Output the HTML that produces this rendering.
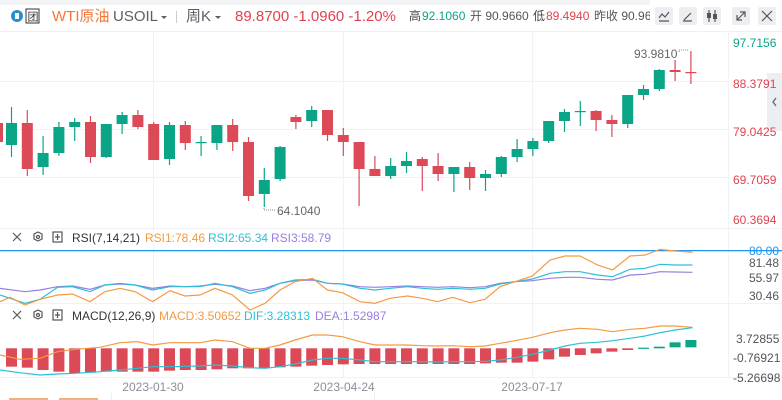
<!DOCTYPE html>
<html><head><meta charset="utf-8"><style>
body{margin:0;width:782px;height:400px;overflow:hidden;background:#fff;font-family:"Liberation Sans","Noto Sans CJK SC",sans-serif;}
svg{position:absolute;left:0;top:0}
</style></head><body>
<svg id="s" width="782" height="400" xmlns="http://www.w3.org/2000/svg" font-family="Liberation Sans, Noto Sans CJK SC, sans-serif">
<rect x="0" y="0" width="782" height="5" fill="#f3f4f6"/>
<!-- header -->
<circle cx="17" cy="16" r="6" fill="#2a8fd0"/><rect x="15" y="13" width="4" height="6" fill="#fff"/>
<rect x="26" y="9" width="13" height="14" fill="none" stroke="#333" stroke-width="1"/>
<text x="27.5" y="20.5" font-size="11" fill="#333">团</text>
<text x="52" y="21" font-size="15" fill="#f5763a">WTI原油</text>
<text x="113" y="21" font-size="15" fill="#5a5e66">USOIL</text>
<path d="M161 16l3 3 3-3z" fill="#5a5e66"/>
<rect x="176" y="11" width="1" height="12" fill="#ccc"/>
<text x="186" y="21" font-size="15" fill="#5a5e66">周K</text>
<path d="M215 16l3 3 3-3z" fill="#5a5e66"/>
<text x="235" y="21" font-size="15" fill="#e0434f">89.8700  -1.0960  -1.20%</text>
<text x="409" y="20" font-size="12" fill="#444">高</text>
<text x="422" y="20" font-size="12" fill="#0aa587">92.1060</text>
<text x="470" y="20" font-size="12" fill="#555">开 90.9660</text>
<text x="533" y="20" font-size="12" fill="#444">低</text>
<text x="546" y="20" font-size="12" fill="#e0434f">89.4940</text>
<text x="594" y="20" font-size="12" fill="#555">昨收 90.966</text>
<rect x="650" y="0" width="132" height="31" fill="#fff"/>
<g fill="#eceef2"><rect x="655" y="7" width="18" height="18" rx="2"/><rect x="679" y="7" width="18" height="18" rx="2"/><rect x="703" y="7" width="18" height="18" rx="2"/><rect x="732" y="7" width="18" height="18" rx="2"/><rect x="758" y="7" width="18" height="18" rx="2"/></g>
<g stroke="#555" stroke-width="1.2" fill="none"><path d="M659 18l3-4 3 3 4-5M659 21h10"/><path d="M684 20l7-7M683 21h9"/><path d="M709 10v12M715 10v12"/><path d="M737 20l8-8M740 12h5v5M742 20h-5v-5"/><path d="M762 11l10 10M772 11l-10 10"/></g>
<rect x="707" y="13" width="4" height="5" fill="#555"/><rect x="713" y="14" width="4" height="5" fill="#555"/>
<rect x="0" y="31" width="782" height="1" fill="#eef0f3"/>
<!-- main grid -->
<g fill="#f1f2f5"><rect x="0" y="81" width="728" height="1"/><rect x="0" y="129" width="728" height="1"/><rect x="0" y="177" width="728" height="1"/>
<rect x="153" y="32" width="1" height="345"/><rect x="343" y="32" width="1" height="345"/><rect x="532" y="32" width="1" height="345"/>
<rect x="728" y="32" width="1" height="345"/><rect x="0" y="228" width="782" height="1"/><rect x="0" y="303" width="782" height="1"/><rect x="0" y="377" width="782" height="1"/></g>
<g id="c"></g>
<rect x="767" y="73" width="15" height="58" fill="#eceef2"/><path d="M776 98l-3 4 3 4" stroke="#666" stroke-width="1.3" fill="none"/>
<g font-size="12" fill="#e0434f"><text x="733" y="47" fill="#0aa587">97.7156</text><text x="733" y="88">88.3791</text><text x="733" y="136">79.0425</text><text x="733" y="184">69.7059</text><text x="733" y="224">60.3694</text></g>
<text x="277" y="215" font-size="12" fill="#666">64.1040</text><path d="M264 208v2h12" stroke="#888" stroke-dasharray="1 1" fill="none"/>
<text x="634" y="58" font-size="12" fill="#666">93.9810</text><path d="M679 52v-2h9" stroke="#888" stroke-dasharray="1 1" fill="none"/>
<!-- RSI -->
<g stroke="#555" stroke-width="1.2" fill="none"><path d="M13 233l8 8M21 233l-8 8"/><path d="M38 232l4 2v5l-4 2-4-2v-5z"/><circle cx="38" cy="237" r="1.5"/><rect x="53" y="232" width="9" height="10"/><path d="M57.5 234v6M55 237h5"/></g>
<g font-size="12"><text x="72" y="242" fill="#333">RSI(7,14,21)</text><text x="145" y="242" fill="#f59a42">RSI1:78.46</text><text x="208" y="242" fill="#2ebfd6">RSI2:65.34</text><text x="271" y="242" fill="#9a7fe0">RSI3:58.79</text></g>
<rect x="0" y="250" width="782" height="1.3" fill="#2196f3"/>
<g font-size="12" fill="#555"><text x="749" y="255" fill="#2196f3">80.00</text><text x="749" y="267">81.48</text><text x="749" y="282">55.97</text><text x="749" y="300">30.46</text></g>
<g transform="translate(0,220) scale(0.5,0.33333)" fill="none" stroke-width="1.2">
<polyline vector-effect="non-scaling-stroke" stroke="#9a7fe0" points="0,205 50,215 80,210 115,200 145,198 180,208 210,195 240,192 270,195 305,205 340,198 370,200 400,198 430,193 465,198 500,212 530,205 560,190 590,182 625,180 655,190 685,192 720,200 750,202 780,200 815,198 845,200 875,202 905,200 940,203 970,200 1000,190 1030,185 1065,182 1100,175 1130,172 1160,172 1195,178 1225,180 1260,165 1290,163 1320,155 1350,156 1385,157"/>
<polyline vector-effect="non-scaling-stroke" stroke="#2ebfd6" points="0,225 50,250 80,238 115,202 145,200 180,215 210,195 240,190 270,195 305,210 340,200 370,200 400,200 430,190 465,200 500,220 530,210 560,190 590,180 625,178 655,190 685,192 720,205 750,210 780,205 815,200 845,205 875,208 905,205 940,208 970,205 1000,192 1030,185 1065,177 1100,160 1130,155 1160,155 1195,165 1225,170 1260,148 1290,145 1320,133 1350,135 1385,135"/>
<polyline vector-effect="non-scaling-stroke" stroke="#f59a42" points="0,245 20,232 50,255 80,238 115,225 145,222 180,245 210,215 240,205 270,215 305,245 340,212 370,228 400,225 430,205 465,225 500,270 530,250 560,210 590,185 625,175 655,210 685,218 720,245 750,250 780,235 815,228 845,235 875,245 905,232 940,248 970,238 1000,200 1030,185 1065,168 1100,120 1130,108 1160,108 1195,135 1225,150 1260,108 1290,105 1320,88 1350,93 1385,97"/>
</g>
<!-- MACD -->
<g stroke="#555" stroke-width="1.2" fill="none"><path d="M13 311l8 8M21 311l-8 8"/><path d="M38 310l4 2v5l-4 2-4-2v-5z"/><circle cx="38" cy="315" r="1.5"/><rect x="53" y="310" width="9" height="10"/><path d="M57.5 312v6M55 315h5"/></g>
<g font-size="12"><text x="72" y="320" fill="#333">MACD(12,26,9)</text><text x="159" y="320" fill="#f59a42">MACD:3.50652</text><text x="244" y="320" fill="#2ebfd6">DIF:3.28313</text><text x="315" y="320" fill="#9a7fe0">DEA:1.52987</text></g>
<g font-size="12" fill="#555"><text x="736" y="343">3.72855</text><text x="733" y="362">-0.76921</text><text x="733" y="382">-5.26698</text></g>
<g id="h"></g>
<g transform="translate(0,220) scale(0.5,0.33333)" fill="none" stroke-width="1.2">
<polyline vector-effect="non-scaling-stroke" stroke="#f59a42" points="0,405 40,418 80,415 115,395 150,388 200,382 240,368 275,365 305,375 340,368 400,368 430,360 465,365 500,385 530,385 560,375 590,360 625,345 655,345 685,350 720,365 750,375 780,375 815,375 845,377 875,378 905,377 940,380 970,378 1000,370 1030,362 1065,352 1100,338 1130,330 1160,325 1195,328 1225,335 1260,328 1290,325 1320,318 1350,318 1385,322"/>
<polyline vector-effect="non-scaling-stroke" stroke="#2ebfd6" points="0,450 40,458 80,465 115,462 150,460 200,455 240,450 275,445 305,440 340,440 400,438 430,435 465,438 500,443 530,445 560,440 590,432 625,420 655,415 685,415 720,420 750,425 780,425 815,425 845,425 875,426 905,425 940,425 970,424 1000,420 1030,413 1065,403 1100,390 1130,378 1160,370 1195,367 1225,362 1260,355 1290,348 1320,338 1350,330 1385,323"/>
</g>
<g font-size="12" fill="#8a8f99" text-anchor="middle"><text x="153" y="391">2023-01-30</text><text x="344" y="391">2023-04-24</text><text x="532" y="391">2023-07-17</text></g>
<rect x="111" y="393" width="1" height="7" fill="#eee"/><rect x="374" y="393" width="1" height="7" fill="#eee"/>
<rect x="9" y="398" width="39" height="2" fill="#f0b27a"/><rect x="59" y="398" width="39" height="2" fill="#f0b27a"/>
</svg>
<script>
var R="#dc4a57",G="#0aa587";
var d=[[123,145,107,157,G],[123,169,110,176,R],[153,167,136,175,G],[127,153,122,156,G],[122,127,118,141,G],[122,157,116,163,R],[124,157,124,158,G],[115,124,112,134,G],[115,127,110,129,R],[124,160,122,160,R],[125,159,122,165,G],[125,143,121,150,R],[142,143,136,156,G],[125,143,125,150,G],[125,142,119,151,R],[142,196,137,201,R],[180,194,168,207,G],[147,179,146,181,G],[117,122,115,129,R],[110,121,106,127,G],[110,135,110,141,R],[135,142,128,156,R],[142,169,142,206,R],[169,176,156,176,R],
[166,176,158,179,G],[161,166,152,173,G],[159,166,157,191,R],[166,174,153,181,R],[167,174,167,192,G],[167,178,162,190,R],[174,178,170,191,G],[157,174,156,177,G],[149,157,139,162,G],[141,149,138,156,G],[121,141,121,143,G],[112,121,109,132,G],[111,112,101,126,G],[111,120,110,131,R],[120,124,115,137,R],[95,124,95,128,G],[89,95,85,100,G],[70,89,69,91,G],[70,72,60,81,R],[72,73,51,84,R]];
var s="";
s+='<rect x="-2" y="123" width="5" height="19" fill="'+R+'"/>';
d.forEach(function(c,k){var x=11.5+15.8*k;s+='<rect x="'+(x-0.6)+'" y="'+c[2]+'" width="1.2" height="'+(c[3]-c[2])+'" fill="'+c[4]+'"/><rect x="'+(x-5.5)+'" y="'+c[0]+'" width="11" height="'+Math.max(1.2,c[1]-c[0])+'" fill="'+c[4]+'"/>';});
document.getElementById("c").innerHTML=s;
var hb=[440,443,450,455,460,458,455,455,455,455,452,450,450,448,445,445,445,442,440,437,435,433,432,432,432,432,432,432,432,432,430,428,428,425,418,410,405,400,395,390];
var h="";var z=348.3;
hb.forEach(function(b,k){var x=11.5+15.8*k;var y=220+b/3;h+='<rect x="'+(x-5.5)+'" y="'+z+'" width="11" height="'+(y-z)+'" fill="'+R+'"/>';});
[[383,385],[380,385],[367,382],[360,382]].forEach(function(b,i){var k=40+i,x=11.5+15.8*k;var t=220+b[0]/3,bt=220+b[1]/3;h+='<rect x="'+(x-5.5)+'" y="'+t+'" width="11" height="'+Math.max(1.2,bt-t)+'" fill="'+G+'"/>';});
document.getElementById("h").innerHTML=h;
</script>
</body></html>
